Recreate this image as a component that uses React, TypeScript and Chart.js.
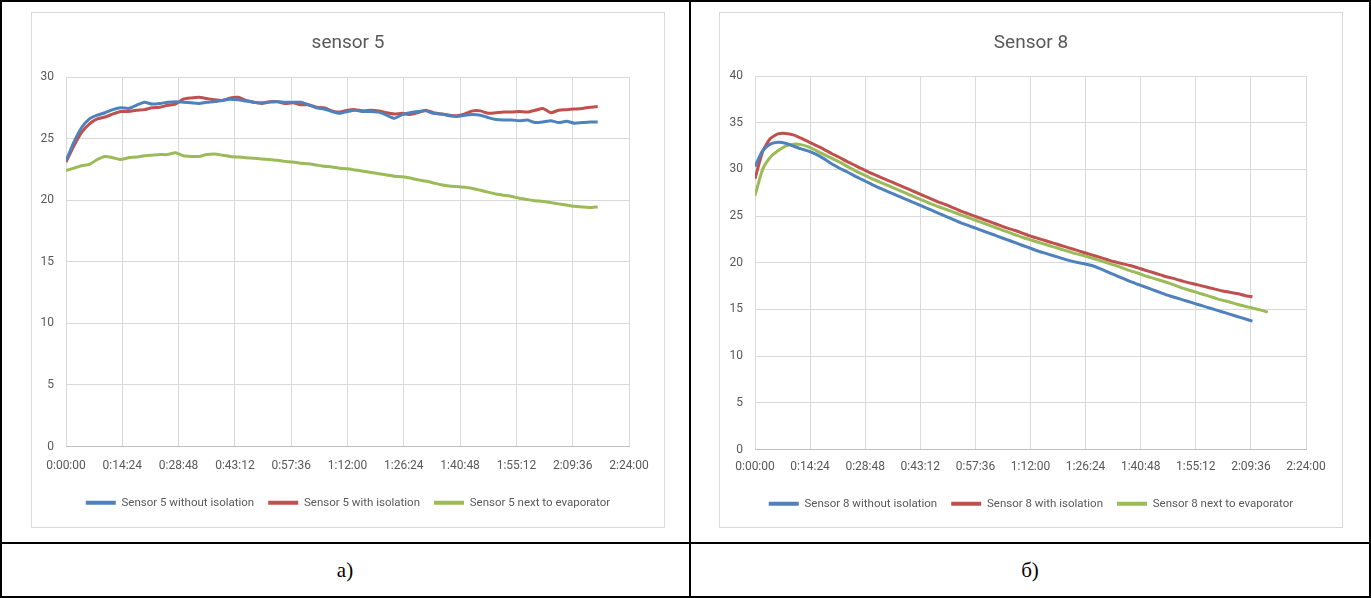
import React, { useEffect, useRef } from "react";
import { Chart, registerables } from "chart.js";

Chart.register(...registerables);

// ---------- data ----------
const xTickMinutes = [0, 14.4, 28.8, 43.2, 57.6, 72, 86.4, 100.8, 115.2, 129.6, 144];
const xTickLabels = ["0:00:00", "0:14:24", "0:28:48", "0:43:12", "0:57:36", "1:12:00", "1:26:24", "1:40:48", "1:55:12", "2:09:36", "2:24:00"];

const sensor5YTicks = [0, 5, 10, 15, 20, 25, 30];
const sensor8YTicks = [0, 5, 10, 15, 20, 25, 30, 35, 40];

const sensor5Minutes = [0, 2, 4, 6, 8, 10, 12, 14, 16, 18, 20, 22, 24, 26, 28, 30, 32, 34, 36, 38, 40, 42, 44, 46, 48, 50, 52, 54, 56, 58, 60, 62, 64, 66, 68, 70, 72, 74, 76, 78, 80, 82, 84, 86, 88, 90, 92, 94, 96, 98, 100, 102, 104, 106, 108, 110, 112, 114, 116, 118, 120, 122, 124, 126, 128, 130, 132, 134, 136];
const sensor5Without = [23.2, 24.7, 25.9, 26.6, 26.9, 27.1, 27.35, 27.5, 27.45, 27.7, 27.95, 27.8, 27.85, 27.95, 28.0, 27.95, 27.9, 27.85, 27.95, 28.0, 28.1, 28.2, 28.15, 28.05, 27.95, 27.9, 27.95, 28.0, 27.95, 27.95, 27.95, 27.75, 27.5, 27.4, 27.2, 27.05, 27.2, 27.3, 27.2, 27.2, 27.15, 26.9, 26.65, 26.95, 27.1, 27.2, 27.25, 27.05, 27.0, 26.85, 26.8, 26.9, 26.95, 26.9, 26.7, 26.55, 26.5, 26.5, 26.45, 26.5, 26.3, 26.35, 26.45, 26.3, 26.4, 26.25, 26.3, 26.35, 26.35];
const sensor5With = [23.1, 24.4, 25.5, 26.2, 26.6, 26.75, 27.0, 27.2, 27.2, 27.3, 27.35, 27.5, 27.55, 27.7, 27.8, 28.2, 28.3, 28.35, 28.25, 28.15, 28.1, 28.3, 28.35, 28.1, 27.95, 27.85, 28.0, 28.0, 27.85, 27.9, 27.75, 27.75, 27.55, 27.5, 27.25, 27.15, 27.3, 27.35, 27.25, 27.3, 27.25, 27.1, 27.0, 27.05, 26.95, 27.1, 27.3, 27.1, 27.0, 26.9, 26.85, 27.0, 27.25, 27.25, 27.05, 27.1, 27.15, 27.15, 27.2, 27.15, 27.3, 27.45, 27.1, 27.3, 27.35, 27.4, 27.45, 27.55, 27.6];
const sensor5Evaporator = [22.4, 22.6, 22.8, 22.9, 23.3, 23.55, 23.45, 23.3, 23.45, 23.5, 23.6, 23.65, 23.7, 23.7, 23.85, 23.6, 23.55, 23.55, 23.7, 23.75, 23.65, 23.55, 23.5, 23.45, 23.4, 23.35, 23.3, 23.25, 23.15, 23.1, 23.0, 22.95, 22.85, 22.75, 22.7, 22.6, 22.55, 22.45, 22.35, 22.25, 22.15, 22.05, 21.95, 21.9, 21.8, 21.65, 21.55, 21.4, 21.25, 21.15, 21.1, 21.05, 20.95, 20.8, 20.65, 20.5, 20.4, 20.3, 20.15, 20.05, 19.95, 19.9, 19.8, 19.7, 19.6, 19.5, 19.45, 19.4, 19.45];

const sensor8Minutes = [0, 2, 4, 6, 8, 10, 12, 14, 16, 18, 20, 22, 24, 26, 28, 30, 32, 34, 36, 38, 40, 42, 44, 46, 48, 50, 52, 54, 56, 58, 60, 62, 64, 66, 68, 70, 72, 74, 76, 78, 80, 82, 84, 86, 88, 90, 92, 94, 96, 98, 100, 102, 104, 106, 108, 110, 112, 114, 116, 118, 120, 122, 124, 126, 128, 130, 132, 134];
const sensor8Without = [30.3, 32.0, 32.7, 32.9, 32.8, 32.5, 32.2, 31.95, 31.6, 31.15, 30.6, 30.15, 29.75, 29.3, 28.9, 28.5, 28.1, 27.75, 27.4, 27.05, 26.7, 26.35, 26.0, 25.65, 25.3, 24.95, 24.6, 24.25, 23.95, 23.65, 23.35, 23.05, 22.75, 22.45, 22.15, 21.85, 21.55, 21.25, 21.0, 20.75, 20.5, 20.25, 20.05, 19.9, 19.7, 19.4, 19.05, 18.7, 18.35, 18.0, 17.7, 17.4, 17.1, 16.8, 16.5, 16.25, 16.0, 15.75, 15.5, 15.25, 15.0, 14.75, 14.5, 14.25, 14.0, 13.75];
const sensor8With = [29.0, 31.9, 33.3, 33.8, 33.85, 33.7, 33.35, 32.95, 32.55, 32.15, 31.7, 31.3, 30.85, 30.45, 30.05, 29.65, 29.3, 28.95, 28.6, 28.25, 27.9, 27.55, 27.2, 26.85, 26.5, 26.2, 25.85, 25.5, 25.2, 24.9, 24.6, 24.3, 24.0, 23.7, 23.45, 23.15, 22.85, 22.6, 22.35, 22.1, 21.85, 21.6, 21.35, 21.1, 20.85, 20.6, 20.35, 20.1, 19.9, 19.7, 19.45, 19.2, 18.95, 18.7, 18.45, 18.25, 18.0, 17.8, 17.6, 17.4, 17.2, 17.0, 16.85, 16.7, 16.5, 16.35];
const sensor8Evaporator = [27.2, 30.0, 31.3, 32.0, 32.5, 32.7, 32.65, 32.4, 32.0, 31.6, 31.2, 30.8, 30.35, 29.9, 29.5, 29.1, 28.75, 28.4, 28.05, 27.7, 27.35, 27.0, 26.65, 26.3, 26.0, 25.7, 25.4, 25.1, 24.8, 24.5, 24.2, 23.9, 23.6, 23.3, 23.0, 22.7, 22.45, 22.2, 21.95, 21.7, 21.45, 21.2, 20.95, 20.75, 20.5, 20.25, 20.0, 19.75, 19.45, 19.15, 18.9, 18.6, 18.35, 18.1, 17.85, 17.55, 17.25, 17.0, 16.75, 16.5, 16.25, 16.0, 15.8, 15.55, 15.35, 15.15, 14.95, 14.7];

const sensor5Labels = ["Sensor 5 without isolation", "Sensor 5 with isolation", "Sensor 5 next to evaporator"];
const sensor8Labels = ["Sensor 8 without isolation", "Sensor 8 with isolation", "Sensor 8 next to evaporator"];
const seriesColors = ["#4F81BD", "#C0504D", "#9BBB59"];

// ---------- styling ----------
const TEXT = "#595959";
const GRID = "#D9D9D9";
const FONT = "Roboto";

type Layout = {
  left: number; top: number; width: number; height: number;
  yAxisWidth: number; rightGap: number; padBottom: number;
  titleTop: number; titleBottom: number; xAxisHeight: number;
  xTickPad: number; legendPad: number;
};

function LineChart(props: {
  title: string; minutes: number[]; series: number[][]; labels: string[];
  yTicks: number[]; layout: Layout;
}) {
  const ref = useRef<HTMLCanvasElement | null>(null);
  const { title, minutes, series, labels, yTicks, layout } = props;
  useEffect(() => {
    if (!ref.current) return;
    const chart = new Chart(ref.current, {
      type: "line",
      data: {
        datasets: series.map((vals, si) => ({
          label: labels[si],
          yAxisID: "y",
          data: vals.map((v, i) => ({ x: minutes[i], y: v })),
          borderColor: seriesColors[si],
          backgroundColor: seriesColors[si],
          borderWidth: 3,
          pointRadius: 0,
          tension: 0.2,
          fill: false,
        })),
      },
      options: {
        responsive: false,
        animation: false,
        layout: { padding: { top: 0, left: 0, right: 0, bottom: layout.padBottom } },
        plugins: {
          title: {
            display: true,
            text: title,
            color: TEXT,
            font: { family: FONT, size: 19, weight: "normal" as any },
            padding: { top: layout.titleTop, bottom: layout.titleBottom },
          },
          legend: {
            position: "bottom",
            labels: {
              boxWidth: 30,
              boxHeight: 4,
              padding: layout.legendPad,
              color: TEXT,
              font: { family: FONT, size: 11.5 },
              generateLabels: (c: any) =>
                Chart.defaults.plugins.legend.labels.generateLabels(c).map((it: any) => ({
                  ...it,
                  lineWidth: 0,
                  fillStyle: seriesColors[it.datasetIndex],
                })),
            },
          },
          tooltip: { enabled: false },
        },
        scales: {
          x: {
            type: "linear",
            min: 0,
            max: 144,
            afterBuildTicks: (s: any) => {
              s.ticks = xTickMinutes.map((v) => ({ value: v }));
            },
            afterFit: (s: any) => {
              s.height = layout.xAxisHeight;
            },
            ticks: {
              autoSkip: false,
              maxRotation: 0,
              padding: layout.xTickPad,
              color: TEXT,
              font: { family: FONT, size: 12 },
              callback: (_v: any, i: number) => xTickLabels[i],
            },
            grid: { color: GRID, drawTicks: false },
            border: { color: "#BFBFBF" },
          },
          y: {
            type: "linear",
            position: "left",
            min: yTicks[0],
            max: yTicks[yTicks.length - 1],
            afterBuildTicks: (s: any) => {
              s.ticks = yTicks.map((v) => ({ value: v }));
            },
            afterFit: (s: any) => {
              s.width = layout.yAxisWidth;
            },
            ticks: {
              padding: 12,
              color: TEXT,
              font: { family: FONT, size: 12 },
            },
            grid: { color: GRID, drawTicks: false },
            border: { display: false },
          },
          gap: {
            type: "linear",
            position: "right",
            display: true,
            min: 0,
            max: 1,
            afterFit: (s: any) => {
              s.width = layout.rightGap;
            },
            ticks: { display: false },
            grid: { display: false, drawTicks: false },
            border: { display: false },
          },
        },
      } as any,
    });
    return () => chart.destroy();
  }, []);
  return (
    <>
      <canvas
        ref={ref}
        width={layout.width}
        height={layout.height}
        style={{ position: "absolute", left: layout.left, top: layout.top, width: layout.width, height: layout.height }}
      />
      <div
        style={{
          position: "absolute", left: layout.left, top: layout.top, width: layout.width, height: layout.height,
          border: "1px solid #D9D9D9", boxSizing: "border-box", pointerEvents: "none",
        }}
      />
    </>
  );
}

const leftLayout: Layout = {
  left: 31, top: 12, width: 634, height: 516,
  yAxisWidth: 35, rightGap: 36, padBottom: 9.5,
  titleTop: 19.6, titleBottom: 22.6, xAxisHeight: 36.5, xTickPad: 12, legendPad: 14,
};
const rightLayout: Layout = {
  left: 719, top: 12, width: 624, height: 516,
  yAxisWidth: 36, rightGap: 37, padBottom: 8.5,
  titleTop: 19.6, titleBottom: 21.6, xAxisHeight: 34.5, xTickPad: 10, legendPad: 14,
};

const line = (style: React.CSSProperties) => (
  <div style={{ position: "absolute", background: "#000", ...style }} />
);

const captionStyle = (cx: number): React.CSSProperties => ({
  position: "absolute", left: cx - 60, width: 120, top: 556, height: 28, lineHeight: "28px",
  textAlign: "center", fontFamily: "'Liberation Serif', 'DejaVu Serif', serif", fontSize: 21, color: "#000",
});

export default function App() {
  return (
    <div style={{ position: "fixed", left: 0, top: 0, width: 1371, height: 598, background: "#fff", overflow: "hidden" }}>
      <LineChart title="sensor 5" minutes={sensor5Minutes} series={[sensor5Without, sensor5With, sensor5Evaporator]} labels={sensor5Labels} yTicks={sensor5YTicks} layout={leftLayout} />
      <LineChart title="Sensor 8" minutes={sensor8Minutes} series={[sensor8Without, sensor8With, sensor8Evaporator]} labels={sensor8Labels} yTicks={sensor8YTicks} layout={rightLayout} />
      {line({ left: 0, top: 0, width: 1371, height: 2 })}
      {line({ left: 0, top: 596, width: 1371, height: 2 })}
      {line({ left: 0, top: 0, width: 2, height: 598 })}
      {line({ left: 1369, top: 0, width: 2, height: 598 })}
      {line({ left: 689, top: 0, width: 2, height: 598 })}
      {line({ left: 0, top: 542, width: 1371, height: 2 })}
      <div style={captionStyle(345)}>а)</div>
      <div style={captionStyle(1030)}>б)</div>
    </div>
  );
}
